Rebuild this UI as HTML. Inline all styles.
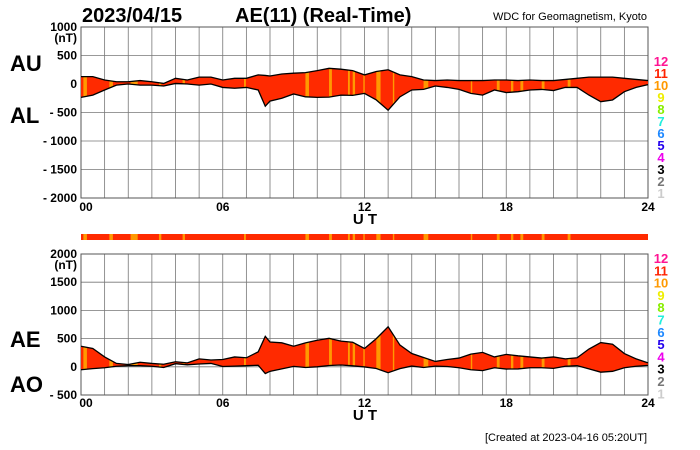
<!DOCTYPE html>
<html><head><meta charset="utf-8"><style>
body{margin:0;background:#fff}
svg{display:block;font-family:"Liberation Sans",sans-serif}
.b{font-weight:bold}
</style></head><body>
<svg id="c" width="700" height="450" viewBox="0 0 700 450">
<text x="82" y="22" class="b" font-size="20">2023/04/15</text>
<text x="235" y="22" class="b" font-size="20">AE(11) (Real-Time)</text>
<text x="647" y="20" font-size="11" text-anchor="end">WDC for Geomagnetism, Kyoto</text>
<text x="10" y="71" class="b" font-size="22">AU</text>
<text x="10" y="123" class="b" font-size="22">AL</text>
<text x="10" y="347" class="b" font-size="22">AE</text>
<text x="10" y="392" class="b" font-size="22">AO</text>
<text x="647" y="441" font-size="11" text-anchor="end">[Created at 2023-04-16 05:20UT]</text>
<g id="g"></g>
</svg>
<script>
const hours=[0,0.5,1,1.5,2,2.5,3,3.5,4,4.5,5,5.5,6,6.5,7,7.5,7.8,8,8.5,9,9.5,10,10.5,11,11.5,12,12.5,13,13.5,14,14.5,15,15.5,16,16.5,17,17.5,18,18.5,19,19.5,20,20.5,21,21.5,22,22.5,23,23.5,24];
const auValues=[130,130,70,40,40,60,40,10,100,70,120,120,70,100,100,160,150,140,175,190,200,235,275,260,235,160,220,250,160,130,70,60,70,60,60,60,70,70,60,70,60,60,80,100,120,120,120,100,80,60];
const alValues=[-235,-195,-105,-20,0,-20,-20,-35,10,0,-20,0,-60,-75,-60,-105,-390,-300,-250,-175,-225,-235,-230,-195,-200,-165,-280,-460,-225,-105,-95,-35,-60,-95,-165,-195,-105,-150,-135,-105,-95,-115,-60,-60,-195,-310,-280,-135,-60,-10];
const orangeStart=[0.1,1.2,2.1,3.3,4.3,6.9,9.5,10.5,11.3,11.5,11.95,12.5,13.2,14.5,16.5,17.6,18.2,18.6,19.5,20.6];
const orangeWidth=[0.15,0.15,0.3,0.1,0.1,0.08,0.15,0.12,0.08,0.1,0.06,0.18,0.06,0.2,0.06,0.12,0.1,0.12,0.12,0.12];
const xTicks=["00","06","12","18","24"];
const topTicks=[1000,500,0,-500,-1000,-1500,-2000];
const botTicks=[2000,1500,1000,500,0,-500];
const legendNums=[12,11,10,9,8,7,6,5,4,3,2,1];
const legendCols=["#ff1493","#ff2200","#ff9900","#eeee00","#88ee00","#22eedd","#1e88ff","#2200ee","#ee00ee","#000","#777","#ccc"];
const NS="http://www.w3.org/2000/svg",G=document.getElementById('g');
function mk(t,a,p){const e=document.createElementNS(NS,t);for(const k in a)e.setAttribute(k,a[k]);(p||G).appendChild(e);return e;}
const X0=81,X1=648,xs=h=>X0+(X1-X0)*h/24;
function panel(id,top,bot,vmax,vmin,ticks,upper,lower,xlabY){
  const ys=v=>top+(bot-top)*(vmax-v)/(vmax-vmin);
  const grid=mk('g',{});
  
  
  for(let h=0;h<=24;h++)mk('line',{x1:xs(h),x2:xs(h),y1:top,y2:bot,stroke:'#777','stroke-width':0.8},grid);
  ticks.forEach((v,i)=>{mk('line',{x1:X0,x2:X1,y1:ys(v),y2:ys(v),stroke:'#777','stroke-width':0.8},grid);
    const t=mk('text',{x:77,y:ys(v)+4,'font-size':12,'font-weight':'bold','text-anchor':'end'});
    t.textContent=(v<0?'- ':'')+Math.abs(v);
    
    });
  const nt=mk('text',{x:77,y:ys(ticks[0])+15,'font-size':12,'font-weight':'bold','text-anchor':'end'});nt.textContent='(nT)';
  
  
  mk('rect',{x:X0,y:top,width:X1-X0,height:bot-top,fill:'none',stroke:'#555'});
  const up=hours.map((h,i)=>xs(h)+','+ys(upper[i])),lo=hours.map((h,i)=>xs(h)+','+ys(lower[i]));
  const cp=mk('clipPath',{id:'cp'+id});mk('polygon',{points:up.concat(lo.slice().reverse()).join(' ')},cp);
  const fill=mk('g',{'clip-path':'url(#cp'+id+')'});
  
  
  mk('rect',{x:X0,y:top,width:X1-X0,height:bot-top,fill:'#ff2a00'},fill);
  orangeStart.forEach((s,i)=>mk('rect',{x:xs(s),y:top,width:xs(orangeWidth[i])-X0,height:bot-top,fill:'#ff9900'},fill));
  const l1=mk('polyline',{points:up.join(' '),fill:'none',stroke:'#000','stroke-width':1.3});
  
  
  const l2=mk('polyline',{points:lo.join(' '),fill:'none',stroke:'#000','stroke-width':1.3});
  
  
  xTicks.forEach((s,i)=>{const t=mk('text',{x:xs(i*6)+(i==0?5:0),y:xlabY,'font-size':12,'font-weight':'bold','text-anchor':'middle'});t.textContent=s;
    
    });
  const ut=mk('text',{x:365,y:xlabY+13,'font-size':15,'font-weight':'bold','text-anchor':'middle'});ut.textContent='U T';
  
  
}
panel('top-panel',27,198,1000,-2000,topTicks,auValues,alValues,211);
const aeValues=auValues.map((v,i)=>v-alValues[i]);
const aoValues=auValues.map((v,i)=>(v+alValues[i])/2);
panel('bottom-panel',254,395,2000,-500,botTicks,aeValues,aoValues,407);
const strip=mk('g',{});


mk('rect',{x:X0,y:234,width:X1-X0,height:6,fill:'#ff2a00'},strip);
orangeStart.forEach((s,i)=>mk('rect',{x:xs(s),y:234,width:xs(orangeWidth[i])-X0,height:6,fill:'#ff9900'},strip));
[[61,12],[258,12.3]].forEach(([y0,st],k)=>legendNums.forEach((n,i)=>{
  const t=mk('text',{x:661,y:y0+5+i*st,'font-size':13,'font-weight':'bold','text-anchor':'middle',fill:legendCols[i]});
  t.textContent=n;
  
  }));
</script>
</body></html>
